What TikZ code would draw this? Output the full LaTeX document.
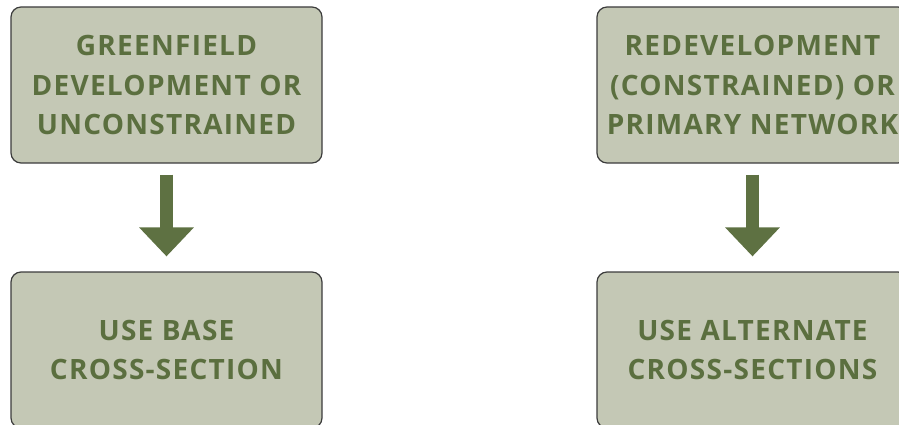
\documentclass[tikz,border=0pt]{standalone}
\usepackage{fontspec}
\setmainfont{Open Sans}[LetterSpace=4.5,BoldFont={Open Sans Bold}]
\usetikzlibrary{arrows.meta}
\definecolor{boxfill}{HTML}{C4C8B5}
\definecolor{boxline}{HTML}{3C3C3C}
\definecolor{txtgreen}{HTML}{5B6F3F}
\definecolor{arrgreen}{HTML}{5E7142}
\tikzset{
  box/.style={draw=boxline, line width=1.2pt, fill=boxfill, rounded corners=10pt,
    minimum width=311pt, minimum height=156pt, inner sep=0pt,
    align=center, text=txtgreen,
    font={\fontsize{28pt}{39.5pt}\selectfont\bfseries}},
  bigarrow/.style={draw=arrgreen, line width=13pt,
    -{Triangle[width=53pt,length=29pt]}, shorten <=11pt, shorten >=15pt}
}
\begin{document}
\begin{tikzpicture}[x=1pt,y=-1pt]
\useasboundingbox (0,0) rectangle (899,425);
\node[box] (g) at (166.5,85) {GREENFIELD\\DEVELOPMENT OR\\UNCONSTRAINED};
\node[box] (b) at (166.5,350) {USE BASE\\CROSS-SECTION};
\node[box] (r) at (752.5,85) {REDEVELOPMENT\\(CONSTRAINED) OR\\PRIMARY NETWORK};
\node[box] (a) at (752.5,350) {USE ALTERNATE\\CROSS-SECTIONS};
\draw[bigarrow] (g.south) -- (b.north);
\draw[bigarrow] (r.south) -- (a.north);
\end{tikzpicture}
\end{document}
